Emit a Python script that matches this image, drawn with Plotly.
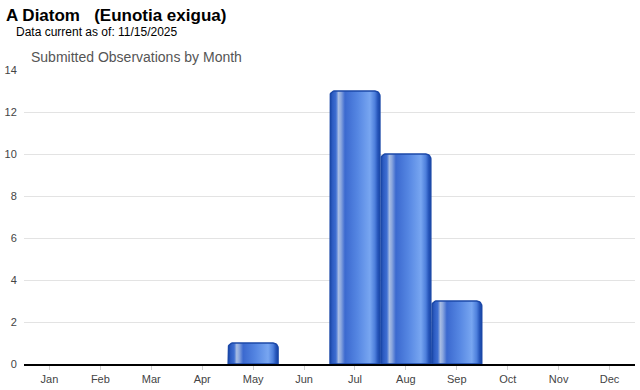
import plotly.graph_objects as go
import math

months = ["Jan", "Feb", "Mar", "Apr", "May", "Jun", "Jul", "Aug", "Sep", "Oct", "Nov", "Dec"]
observations = [0, 0, 0, 0, 1, 0, 13, 10, 3, 0, 0, 0]
y_ticks = [0, 2, 4, 6, 8, 10, 12, 14]

W, H = 640, 390
ML, MR, MT, MB = 22, 5, 70, 23
PW, PH = W - ML - MR, H - MT - MB
XR = (-0.5, 11.5)
YR = (0, 14)
px_x = PW / (XR[1] - XR[0])
px_y = PH / (YR[1] - YR[0])

BAR_W = 0.98
RAD_PX = 5

gradient = [
    [0.0, "#1a47a6"], [0.05, "#2d5cc2"], [0.12, "#3f6fd2"], [0.17, "#a8bde3"],
    [0.22, "#8aa6de"], [0.30, "#3b69cf"], [0.55, "#5586e2"], [0.80, "#78a6f1"],
    [0.90, "#4d7fdc"], [0.96, "#2453b8"], [1.0, "#1a47a6"],
]


def bar_path(cx, val):
    half = BAR_W / 2
    rx = RAD_PX / px_x
    ry = min(RAD_PX / px_y, val)
    xs, ys = [cx - half], [0]
    for k in range(0, 9):
        a = math.pi - k * (math.pi / 2) / 8
        xs.append(cx - half + rx + rx * math.cos(a))
        ys.append(val - ry + ry * math.sin(a))
    for k in range(0, 9):
        a = math.pi / 2 - k * (math.pi / 2) / 8
        xs.append(cx + half - rx + rx * math.cos(a))
        ys.append(val - ry + ry * math.sin(a))
    xs.append(cx + half)
    ys.append(0)
    xs.append(cx - half)
    ys.append(0)
    return xs, ys


fig = go.Figure()
for i, v in enumerate(observations):
    if v <= 0:
        continue
    xs, ys = bar_path(i, v)
    fig.add_trace(go.Scatter(
        x=xs, y=ys, mode="lines", fill="toself",
        fillgradient=dict(type="horizontal", colorscale=gradient),
        line=dict(color="#1b48a8", width=1.5),
        name=months[i], hoverinfo="text", text=f"{months[i]}: {v}",
        showlegend=False,
    ))

fig.update_layout(
    width=W, height=H,
    margin=dict(l=ML, r=MR, t=MT, b=MB, pad=0),
    paper_bgcolor="white", plot_bgcolor="white",
    font=dict(family="Liberation Sans, Arial, sans-serif", color="#444", size=11),
    showlegend=False,
    xaxis=dict(
        range=list(XR), tickvals=list(range(12)), ticktext=months,
        showgrid=False, zeroline=False, showline=True, linecolor="#000", linewidth=1.5,
        ticks="outside", ticklen=4, tickcolor="#d0d0d0", tickwidth=1,
        tickfont=dict(size=11, color="#444"), fixedrange=True,
    ),
    yaxis=dict(
        range=list(YR), tickvals=y_ticks, showgrid=True, gridcolor="#e3e3e3", gridwidth=1,
        zeroline=False, showline=False, ticks="outside", ticklen=4, tickcolor="white",
        tickfont=dict(size=11, color="#444"), fixedrange=True,
    ),
    annotations=[
        dict(text="<b>A Diatom \u00a0 (Eunotia exigua)</b>", xref="paper", yref="paper",
             x=(2 - ML) / PW, y=1 + (MT - 15) / PH, xanchor="left", yanchor="middle",
             showarrow=False, font=dict(size=17, color="#000",
                                        family="Liberation Sans, Arial, sans-serif")),
        dict(text="Data current as of: 11/15/2025", xref="paper", yref="paper",
             x=(12 - ML) / PW, y=1 + (MT - 32) / PH, xanchor="left", yanchor="middle",
             showarrow=False, font=dict(size=12, color="#000")),
        dict(text="Submitted Observations by Month", xref="paper", yref="paper",
             x=(27 - ML) / PW, y=1 + (MT - 57) / PH, xanchor="left", yanchor="middle",
             showarrow=False, font=dict(size=14, color="#555")),
    ],
)

fig.write_html("out.html")
